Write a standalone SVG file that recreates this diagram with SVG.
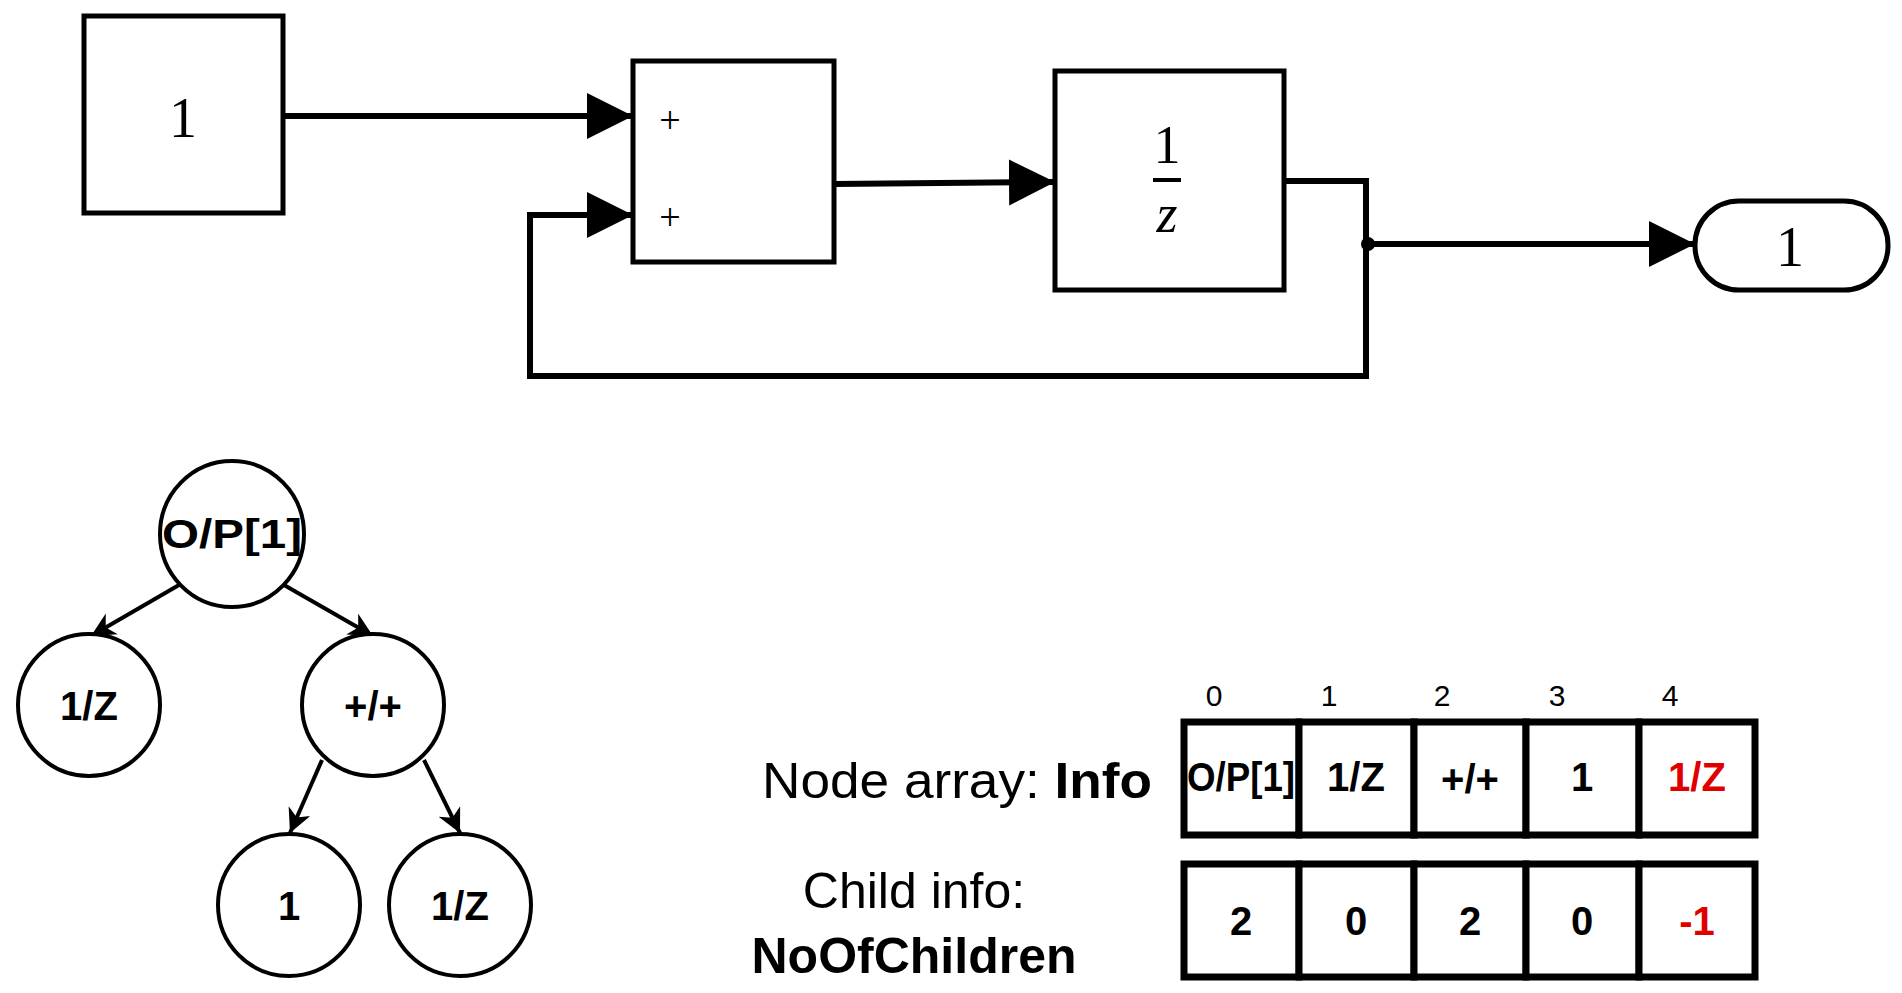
<svg xmlns="http://www.w3.org/2000/svg" width="1902" height="993" viewBox="0 0 1902 993">
<defs>
<marker id="tri" markerUnits="userSpaceOnUse" markerWidth="50" markerHeight="50" refX="46" refY="23" orient="auto"><path d="M0,0 L46,23 L0,46 Z" fill="#000"/></marker>
<marker id="ar" markerUnits="userSpaceOnUse" markerWidth="30" markerHeight="30" refX="24" refY="12" orient="auto"><path d="M0,0 L24,12 L0,24 L7,12 Z" fill="#000"/></marker>
<style>
.blk{fill:#fff;stroke:#000;stroke-width:5}
.sig{fill:none;stroke:#000;stroke-width:6}
.edge{fill:none;stroke:#000;stroke-width:4}
.nd{fill:#fff;stroke:#000;stroke-width:4}
.ser{font-family:"Liberation Serif",serif;text-anchor:middle}
.lb{font-family:"Liberation Sans",Arial,sans-serif;font-weight:bold;text-anchor:middle;font-size:40px}
.cell{fill:#fff;stroke:#000;stroke-width:7}
.idx{font-family:"Liberation Sans",Arial,sans-serif;font-size:30px;text-anchor:middle}
.txt{font-family:"Liberation Sans",Arial,sans-serif;font-size:50px}
</style>
</defs>
<g id="connectors">
<line class="sig" x1="283" y1="116" x2="633" y2="116" marker-end="url(#tri)"/>
<line class="sig" x1="834" y1="184" x2="1055" y2="182" marker-end="url(#tri)"/>
<polyline class="sig" points="1286,181 1366,181 1366,376 530,376 530,215 633,215" marker-end="url(#tri)"/>
<line class="sig" x1="1366" y1="244" x2="1695" y2="244" marker-end="url(#tri)"/>
<circle cx="1368" cy="244" r="7" fill="#000"/>
<line class="edge" x1="179" y1="585" x2="91" y2="636" marker-end="url(#ar)"/>
<line class="edge" x1="284" y1="585" x2="373" y2="636" marker-end="url(#ar)"/>
<line class="edge" x1="322" y1="760" x2="290" y2="833" marker-end="url(#ar)"/>
<line class="edge" x1="424" y1="760" x2="460" y2="833" marker-end="url(#ar)"/>
</g>
<g id="const"><rect class="blk" x="84" y="16" width="199" height="197"/><text class="ser" x="183" y="137" font-size="56">1</text></g>
<g id="sum"><rect class="blk" x="633" y="61" width="201" height="201"/>
<text class="ser" x="670" y="133" font-size="38">+</text><text class="ser" x="670" y="230" font-size="38">+</text></g>
<g id="delay"><rect class="blk" x="1055" y="71" width="229" height="219"/>
<text class="ser" x="1167" y="163" font-size="54">1</text>
<line x1="1153" y1="180" x2="1181" y2="180" stroke="#000" stroke-width="4"/>
<text class="ser" x="1167" y="232" font-size="54" font-style="italic">z</text></g>
<g id="out"><rect class="blk" x="1695" y="201" width="193" height="89" rx="44" ry="44" stroke-width="3"/><text class="ser" x="1790" y="266" font-size="56">1</text></g>
<g id="t-root"><ellipse class="nd" cx="232" cy="534" rx="72" ry="73"/><text class="lb" x="232" y="548" textLength="140" lengthAdjust="spacingAndGlyphs">O/P[1]</text></g>
<g id="t-z1"><ellipse class="nd" cx="89" cy="705" rx="71" ry="71"/><text class="lb" x="89" y="720">1/Z</text></g>
<g id="t-sum"><ellipse class="nd" cx="373" cy="705" rx="71" ry="71"/><text class="lb" x="373" y="720">+/+</text></g>
<g id="t-one"><ellipse class="nd" cx="289" cy="905" rx="71" ry="71"/><text class="lb" x="289" y="920">1</text></g>
<g id="t-z2"><ellipse class="nd" cx="460" cy="905" rx="71" ry="71"/><text class="lb" x="460" y="920">1/Z</text></g>
<g id="indices">
<text class="idx" x="1214" y="706">0</text><text class="idx" x="1329" y="706">1</text><text class="idx" x="1442" y="706">2</text><text class="idx" x="1557" y="706">3</text><text class="idx" x="1670" y="706">4</text>
</g>
<g id="info-array">
<rect class="cell" x="1184" y="722" width="115" height="113"/><rect class="cell" x="1299" y="722" width="115" height="113"/><rect class="cell" x="1414" y="722" width="112" height="113"/><rect class="cell" x="1526" y="722" width="113" height="113"/><rect class="cell" x="1639" y="722" width="116" height="113"/>
<text class="lb" x="1241" y="791" font-size="36" textLength="108" lengthAdjust="spacingAndGlyphs">O/P[1]</text>
<text class="lb" x="1356" y="791" font-size="38">1/Z</text>
<text class="lb" x="1470" y="793" font-size="36">+/+</text>
<text class="lb" x="1582" y="791" font-size="38">1</text>
<text class="lb" x="1697" y="791" font-size="38" fill="#e00000">1/Z</text>
</g>
<g id="child-array">
<rect class="cell" x="1184" y="864" width="115" height="113"/><rect class="cell" x="1299" y="864" width="115" height="113"/><rect class="cell" x="1414" y="864" width="112" height="113"/><rect class="cell" x="1526" y="864" width="113" height="113"/><rect class="cell" x="1639" y="864" width="116" height="113"/>
<text class="lb" x="1241" y="935" font-size="38">2</text>
<text class="lb" x="1356" y="935" font-size="38">0</text>
<text class="lb" x="1470" y="935" font-size="38">2</text>
<text class="lb" x="1582" y="935" font-size="38">0</text>
<text class="lb" x="1697" y="935" font-size="38" fill="#e00000">-1</text>
</g>
<g id="labels">
<text class="txt" x="1152" y="798" text-anchor="end" textLength="390" lengthAdjust="spacingAndGlyphs">Node array: <tspan font-weight="bold">Info</tspan></text>
<text class="txt" x="914" y="908" text-anchor="middle">Child info:</text>
<text class="txt" x="914" y="973" text-anchor="middle" font-weight="bold">NoOfChildren</text>
</g>
</svg>
